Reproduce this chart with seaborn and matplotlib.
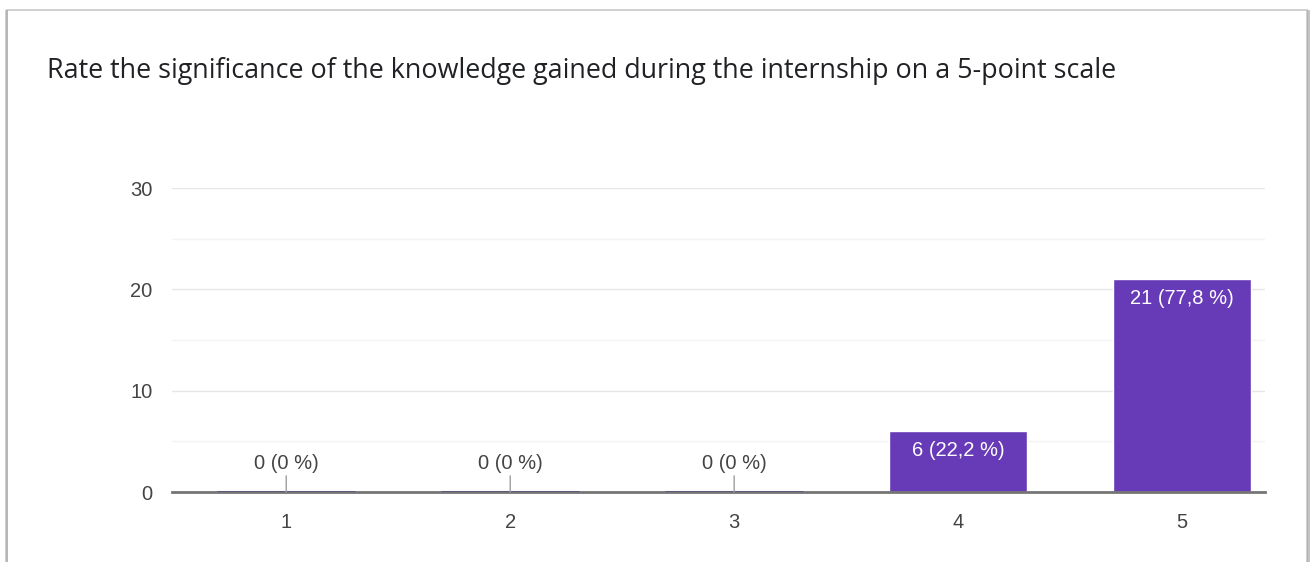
import matplotlib
matplotlib.use("Agg")
import matplotlib.pyplot as plt
from matplotlib.patches import Rectangle
import seaborn as sns
import pandas as pd

categories = ["1", "2", "3", "4", "5"]
counts = [0, 0, 0, 6, 21]
labels = ["0 (0 %)", "0 (0 %)", "0 (0 %)", "6 (22,2 %)", "21 (77,8 %)"]
title = "Rate the significance of the knowledge gained during the internship on a 5-point scale"
yticks = [0, 10, 20, 30]

sns.set_theme(style="white")
plt.rcParams["font.family"] = ["Liberation Sans", "DejaVu Sans"]

df = pd.DataFrame({"rating": categories, "count": counts})

fig = plt.figure(figsize=(13.14, 5.62), dpi=100)
fig.patch.set_facecolor("white")

# card frame
fig.patches.append(Rectangle((7 / 1314, -0.05), (1307 - 7) / 1314, (552 / 562) + 0.05,
                             transform=fig.transFigure, facecolor="none",
                             edgecolor="#c8c8c8", linewidth=1.2, zorder=-1))
fig.patches.append(Rectangle((1307 / 1314, -0.05), 3 / 1314, (552 / 562) + 0.05,
                             transform=fig.transFigure, facecolor="#9e9e9e",
                             edgecolor="none", alpha=0.6, zorder=-1))
fig.patches.append(Rectangle((5 / 1314, -0.05), 3 / 1314, (552 / 562) + 0.05,
                             transform=fig.transFigure, facecolor="#9e9e9e",
                             edgecolor="none", alpha=0.5, zorder=-1))

ax = fig.add_axes([172 / 1314, 1 - 492 / 562, (1265 - 172) / 1314, (492 - 188) / 562])
ax.set_facecolor("none")

sns.barplot(data=df, x="rating", y="count", color="#673ab7", saturation=1,
            width=0.615, ax=ax, zorder=3)

ax.set_ylim(0, 30)
ax.set_xlim(-0.51, 4.37)
ax.set_yticks(yticks)
ax.set_yticks([5, 15, 25], minor=True)
ax.grid(axis="y", which="major", color="#e6e6e6", linewidth=1, zorder=0)
ax.grid(axis="y", which="minor", color="#f4f4f4", linewidth=1, zorder=0)
for s in ["top", "right", "left"]:
    ax.spines[s].set_visible(False)
ax.spines["bottom"].set_color("#757575")
ax.spines["bottom"].set_linewidth(2)
ax.spines["bottom"].set_zorder(4)
ax.tick_params(axis="both", which="both", length=0, labelsize=14.5, colors="#444444")
ax.tick_params(axis="y", pad=14)
ax.tick_params(axis="x", pad=15)
ax.set_xlabel("")
ax.set_ylabel("")

# zero-height bars: darker segment on baseline
for i, v in enumerate(counts):
    if v == 0:
        ax.plot([i - 0.3075, i + 0.3075], [0, 0], color="#5c5c7a", linewidth=2.2,
                zorder=5, solid_capstyle="butt")

for i, (v, lab) in enumerate(zip(counts, labels)):
    if v == 0:
        ax.annotate(lab, xy=(i, 0), xytext=(0, 14), textcoords="offset points",
                    ha="center", va="bottom", fontsize=14.5, color="#444444",
                    arrowprops=dict(arrowstyle="-", color="#9e9e9e", lw=1,
                                    shrinkA=0, shrinkB=0), zorder=6)
    else:
        ax.annotate(lab, xy=(i, v), xytext=(0, -7), textcoords="offset points",
                    ha="center", va="top", fontsize=14.5, color="white", zorder=6)

fig.text(47 / 1314, 1 - 71 / 562, title, fontsize=19.4, color="#202124",
         family=["Open Sans", "DejaVu Sans"], ha="left", va="center")

fig.savefig("out.png", dpi=100, facecolor="white")
